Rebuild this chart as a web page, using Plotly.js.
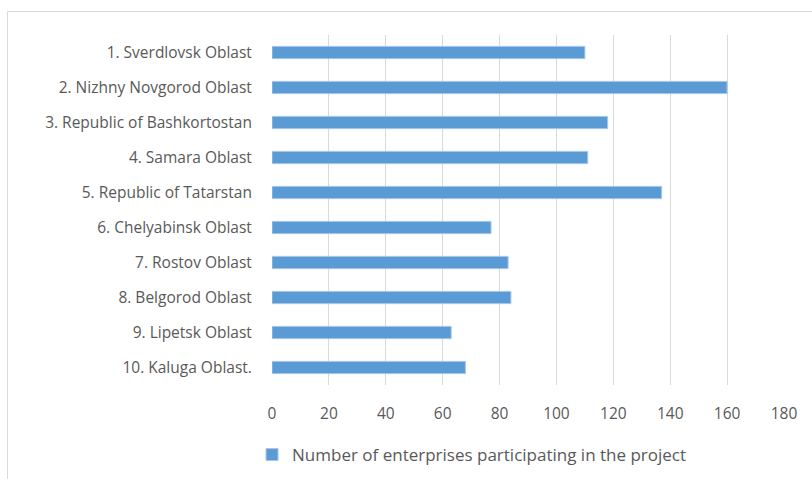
<!DOCTYPE html>
<html>
<head>
<meta charset="utf-8">
<script src="https://cdn.plot.ly/plotly-3.0.1.min.js"></script>
<style>
html,body{margin:0;padding:0;background:#fff;}
#chart{width:812px;height:479px;}
</style>
</head>
<body>
<div id="chart"></div>
<script>
const regions = [
  "1. Sverdlovsk Oblast",
  "2. Nizhny Novgorod Oblast",
  "3. Republic of Bashkortostan",
  "4. Samara Oblast",
  "5. Republic of Tatarstan",
  "6. Chelyabinsk Oblast",
  "7. Rostov Oblast",
  "8. Belgorod Oblast",
  "9. Lipetsk Oblast",
  "10. Kaluga Oblast."
];
const enterprises = [110, 160, 118, 111, 137, 77, 83, 84, 63, 68];
const seriesName = "Number of enterprises participating in the project";
const xTicks = [0, 20, 40, 60, 80, 100, 120, 140, 160, 180];

const fontFam = "Open Sans, Calibri, sans-serif";
const textColor = "#595959";

const data = [{
  type: "bar",
  orientation: "h",
  y: regions,
  x: enterprises,
  name: seriesName,
  width: 0.35,
  marker: {color: "#5b9bd5", line: {color: "#a7c7e8", width: 1}},
  hoverinfo: "x+y"
}];

const layout = {
  width: 812,
  height: 479,
  margin: {l: 272, r: 28, t: 35, b: 93.5},
  paper_bgcolor: "#ffffff",
  plot_bgcolor: "#ffffff",
  font: {family: fontFam, size: 15, color: textColor},
  showlegend: true,
  legend: {
    orientation: "h",
    x: -0.039, xanchor: "left",
    yref: "container",
    y: (479 - 455) / 479, yanchor: "middle",
    font: {family: fontFam, size: 17, color: textColor},
    itemwidth: 30
  },
  xaxis: {
    range: [0, 180],
    tickvals: xTicks,
    ticktext: xTicks.map(String),
    showgrid: true,
    gridcolor: "#d9d9d9",
    gridwidth: 1,
    zeroline: false,
    showline: false,
    ticks: "outside",
    ticklen: 14,
    tickcolor: "rgba(0,0,0,0)",
    tickfont: {family: fontFam, size: 15.5, color: textColor},
    automargin: false,
    fixedrange: true
  },
  yaxis: {
    type: "category",
    categoryorder: "array",
    categoryarray: regions,
    autorange: "reversed",
    showgrid: false,
    zeroline: false,
    showline: false,
    ticks: "outside",
    ticklen: 16,
    tickcolor: "rgba(0,0,0,0)",
    tickfont: {family: fontFam, size: 15.5, color: textColor},
    automargin: false,
    fixedrange: true
  },
  shapes: [{
    type: "rect",
    xref: "paper", yref: "paper",
    x0: (7.5 - 272) / 512, x1: 1.1,
    y0: -0.3, y1: (385.5 - 11.5) / 350.5,
    line: {color: "#d9d9d9", width: 1},
    fillcolor: "rgba(0,0,0,0)",
    layer: "below"
  }]
};

Plotly.newPlot("chart", data, layout, {displayModeBar: false});
</script>
</body>
</html>
